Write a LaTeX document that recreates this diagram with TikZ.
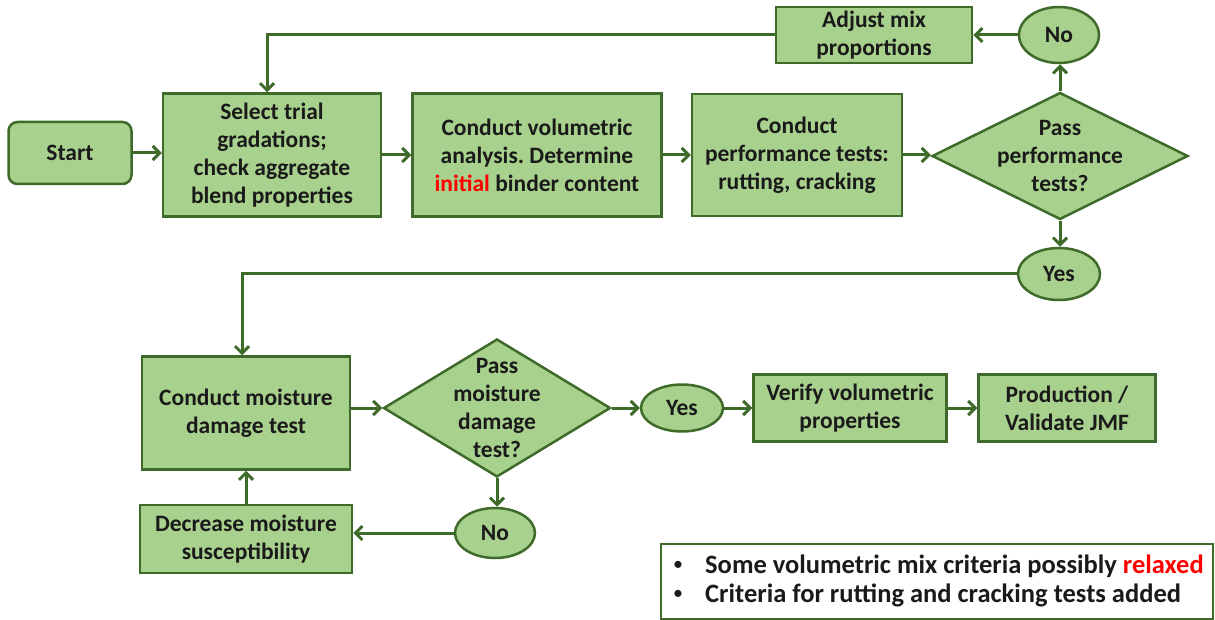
\documentclass[tikz,border=0pt]{standalone}
\usepackage{fontspec}
\setmainfont{Carlito}
\usetikzlibrary{arrows.meta,shapes.geometric}
\definecolor{boxg}{HTML}{A9D18E}
\definecolor{edge}{HTML}{3E6A2A}
\definecolor{ink}{HTML}{1A1A1A}
\frenchspacing
\begin{document}
\begin{tikzpicture}[x=1pt,y=-1pt,
  txt/.style={font=\fontsize{23.5pt}{28pt}\selectfont\bfseries, text=ink, align=center, inner sep=0pt},
  note/.style={font=\fontsize{26.5pt}{29pt}\selectfont\bfseries, text=ink, inner sep=0pt},
  dot/.style={font=\fontsize{20pt}{20pt}\selectfont, text=ink, inner sep=0pt},
  proc/.style={txt, draw=edge, line width=2.5pt, fill=boxg},
  oval/.style={txt, ellipse, draw=edge, line width=2.5pt, fill=boxg},
  decision/.style={diamond, draw=edge, line width=2.5pt, fill=boxg, inner sep=0pt},
  arr/.style={draw=edge, line width=3pt, -{Straight Barb[length=7pt,width=14pt]}}]
\useasboundingbox (0,0) rectangle (1215,620);

% top row
\node[proc, rounded corners=9pt, minimum width=123pt, minimum height=62pt] (start) at (70,153) {Start};
\node[proc, minimum width=218pt, minimum height=123pt] (sel) at (272,155) {Select trial\\gradations;\\check aggregate\\blend properties};
\node[proc, minimum width=249pt, minimum height=123pt] (vol) at (537,155) {Conduct volumetric\\analysis. Determine\\\textcolor{red}{initial} binder content};
\node[proc, minimum width=210pt, minimum height=122pt] (perf) at (797,155) {Conduct\\performance tests:\\rutting, cracking};
\node[decision, minimum width=256pt, minimum height=127pt] (d1) at (1060,156) {};
\node[txt] (d1t) at (d1) {Pass\\performance\\tests?};
\node[oval, minimum width=80pt, minimum height=56pt] (no1) at (1059,35) {No};
\node[proc, minimum width=196pt, minimum height=56pt] (adj) at (874,35) {Adjust mix\\proportions};
\node[oval, minimum width=82pt, minimum height=52pt] (yes1) at (1059,274) {Yes};

% bottom part
\node[proc, minimum width=208pt, minimum height=113pt] (moist) at (246,413) {Conduct moisture\\damage test};
\node[decision, minimum width=227pt, minimum height=138pt] (d2) at (497,408) {};
\node[txt] (d2t) at (d2) {Pass\\moisture\\damage\\test?};
\node[oval, minimum width=80pt, minimum height=50pt] (no2) at (495,533) {No};
\node[proc, minimum width=212pt, minimum height=68pt] (dec) at (246,539) {Decrease moisture\\susceptibility};
\node[oval, minimum width=82pt, minimum height=47pt] (yes2) at (682,408) {Yes};
\node[proc, minimum width=193pt, minimum height=67pt] (ver) at (850,408) {Verify volumetric\\properties};
\node[proc, minimum width=177pt, minimum height=67pt] (prod) at (1067,408) {Production /\\Validate JMF};

% notes box
\node[draw=edge, line width=2pt, fill=white, minimum width=552pt, minimum height=75pt, anchor=north west, inner sep=0pt] (leg) at (660,543) {};
\node[dot, anchor=base] (b1) at (678,570) {•};
\node[note, anchor=base west] (l1) at (705,573) {Some volumetric mix criteria possibly \textcolor{red}{relaxed}};
\node[dot, anchor=base] (b2) at (678,599) {•};
\node[note, anchor=base west] (l2) at (705,602) {Criteria for rutting and cracking tests added};

% connectors
\draw[arr] (start.east) -- (sel.west |- start.east);
\draw[arr] (sel) -- (vol);
\draw[arr] (vol) -- (perf);
\draw[arr] (perf.east) -- (d1.west |- perf.east);
\draw[arr] (d1.north) -- (d1.north |- no1.south);
\draw[arr] (no1) -- (adj);
\draw[arr] (adj.west) -| ([xshift=-5pt]sel.north);
\draw[arr] (d1.south) -- (d1.south |- yes1.north);
\draw[arr] (yes1.west) -| ([xshift=-4pt]moist.north);
\draw[arr] (moist.east |- d2.west) -- (d2.west);
\draw[arr] (d2) -- (yes2);
\draw[arr] (yes2) -- (ver);
\draw[arr] (ver) -- (prod);
\draw[arr] (d2.south) -- (d2.south |- no2.north);
\draw[arr] (no2.west) -- (dec.east |- no2.west);
\draw[arr] (dec) -- (moist);
\end{tikzpicture}
\end{document}
